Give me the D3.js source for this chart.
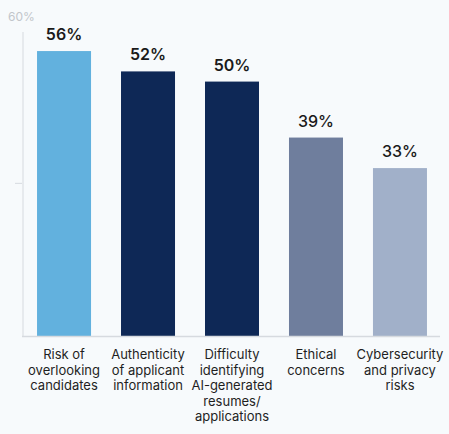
<!DOCTYPE html>
<html><head><meta charset="utf-8">
<script src="https://cdn.jsdelivr.net/npm/d3@7/dist/d3.min.js"></script>
<style>
html,body{margin:0;padding:0;background:#f7fafc;}
svg{display:block;font-family:Inter,"Noto Sans",sans-serif;}
</style></head>
<body><svg id="c" width="449" height="434"></svg>
<script>
const categories = [
  ["Risk of","overlooking","candidates"],
  ["Authenticity","of applicant","information"],
  ["Difficulty","identifying","AI-generated","resumes/","applications"],
  ["Ethical","concerns"],
  ["Cybersecurity","and privacy","risks"]
];
const values = [56, 52, 50, 39, 33];
const colors = ["#62b1de", "#0e2856", "#0e2856", "#6f7e9d", "#a1b0c9"];
const weights = [600, 600, 600, 500, 500];
const yTicks = [30, 60];
const yTickLabel = "60%";

const svg = d3.select("#c");
const x = d3.scaleBand().domain(d3.range(values.length)).range([22, 442]).paddingInner(0.357).paddingOuter(0.179);
const y = d3.scaleLinear().domain([0, 60]).range([336, 30.7]);

// axis line
svg.append("line").attr("x1",23).attr("x2",23).attr("y1",32).attr("y2",y(0))
  .attr("stroke","#d6dadf").attr("stroke-width",1);
// tick at 30
svg.append("line").attr("x1",15).attr("x2",22).attr("y1",y(yTicks[0])).attr("y2",y(yTicks[0]))
  .attr("stroke","#d6dadf").attr("stroke-width",1);
svg.append("text").attr("x",8).attr("y",21).attr("font-size",12).attr("fill","#c2c6cb").text(yTickLabel);

// bars
svg.selectAll("rect.bar").data(values).join("rect").attr("class","bar")
  .attr("x",(d,i)=>x(i)).attr("width",x.bandwidth())
  .attr("y",d=>y(d)).attr("height",d=>y(0)-y(d))
  .attr("fill",(d,i)=>colors[i]);

// baseline
svg.append("line").attr("x1",22).attr("x2",440).attr("y1",y(0)+0.5).attr("y2",y(0)+0.5)
  .attr("stroke","#d6dadf").attr("stroke-width",1.5);

// value labels
svg.selectAll("text.val").data(values).join("text").attr("class","val")
  .attr("x",(d,i)=>x(i)+x.bandwidth()/2).attr("y",d=>y(d)-11)
  .attr("text-anchor","middle").attr("font-size",16).attr("font-weight",(d,i)=>weights[i])
  .attr("fill","#1a1a1a").text(d=>d+"%");

// category labels
categories.forEach((lines,i)=>{
  const t = svg.append("text").attr("text-anchor","middle").attr("font-size",13).attr("fill","#1f1f1f");
  lines.forEach((l,j)=>{
    t.append("tspan").attr("x",x(i)+x.bandwidth()/2).attr("y",359+j*15.5).text(l);
  });
});
</script></body></html>
